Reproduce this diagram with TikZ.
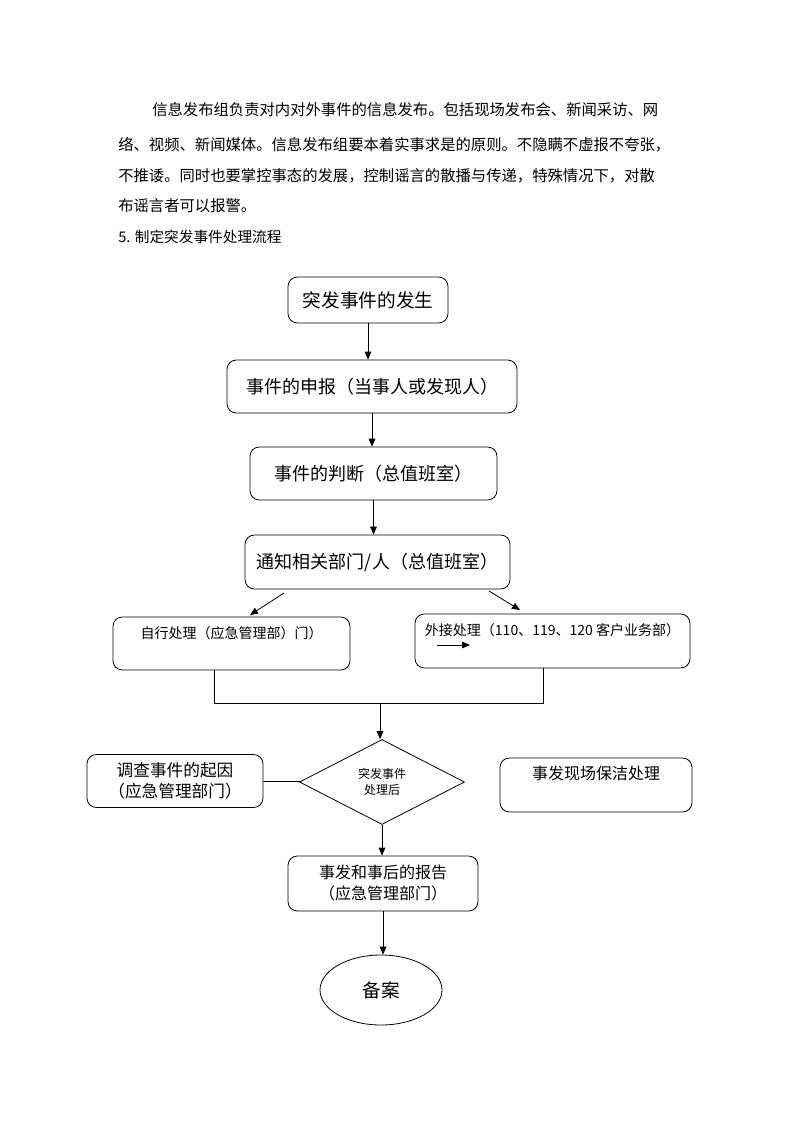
\documentclass[tikz,border=0pt]{standalone}
\usepackage{fontspec}
\setmainfont{Noto Sans CJK SC}
\usepackage{tikz}
\usetikzlibrary{shapes.geometric, arrows.meta, positioning, calc}
\definecolor{ink}{HTML}{000000}
\tikzstyle{stepbox} = [rectangle, rounded corners=7pt, draw=ink, line width=0.6pt, align=center, inner sep=2pt, text=ink]
\tikzstyle{para} = [anchor=west, inner sep=0pt, text=ink, font=\fontsize{11.5}{14}\selectfont]
\tikzstyle{arrow} = [line width=0.6pt, ink, -{Triangle[length=6pt,width=5pt]}]
\tikzstyle{line} = [line width=0.6pt, ink]

\begin{document}
\begin{tikzpicture}[x=0.75pt, y=-0.75pt]
    \useasboundingbox (0,0) rectangle (794,1123);

    % Paragraph text
    \node (p1) [para] at (152,110) {信息发布组负责对内对外事件的信息发布。包括现场发布会、新闻采访、网};
    \node (p2) [para] at (118,145) {络、视频、新闻媒体。信息发布组要本着实事求是的原则。不隐瞒不虚报不夸张，};
    \node (p3) [para] at (118,176) {不推诿。同时也要掌控事态的发展，控制谣言的散播与传递，特殊情况下，对散};
    \node (p4) [para] at (118,206) {布谣言者可以报警。};
    \node (head) [para, font=\fontsize{11}{13}\selectfont] at (118,237) {5. 制定突发事件处理流程};

    % Main steps
    \node (occur) [stepbox, minimum width=120pt, minimum height=34.5pt, font=\fontsize{14}{16}\selectfont] at (368,300) {突发事件的发生};
    \node (report) [stepbox, minimum width=217.5pt, minimum height=39.75pt, font=\fontsize{13.5}{16}\selectfont] at (372,386.5) {事件的申报（当事人或发现人）};
    \node (judge) [stepbox, minimum width=185.25pt, minimum height=39.75pt, font=\fontsize{13.5}{16}\selectfont] at (373.5,473.5) {事件的判断（总值班室）};
    \node (notify) [stepbox, minimum width=198.75pt, minimum height=40.5pt, font=\fontsize{13.5}{16}\selectfont] at (377.5,562) {通知相关部门/人（总值班室）};

    % Handling branches
    \node (self) [stepbox, minimum width=177.75pt, minimum height=39.75pt, font=\fontsize{10.5}{13}\selectfont] at (231.5,643.5) {自行处理（应急管理部）门）\\\strut};
    \node (outside) [stepbox, minimum width=206.25pt, minimum height=40.5pt, font=\fontsize{10.5}{13}\selectfont] at (552.5,641) {外接处理（110、119、120 客户业务部）\\\strut};

    % Decision and side boxes
    \node (decide) [diamond, draw=ink, line width=0.6pt, inner sep=0pt, minimum width=123.75pt, minimum height=63.75pt, align=center, font=\fontsize{9}{12.5}\selectfont] at (382,782) {突发事件\\处理后};
    \node (cause) [stepbox, minimum width=132pt, minimum height=39.75pt, font=\fontsize{12.5}{15.75}\selectfont] at (175,781) {调查事件的起因\\（应急管理部门）};
    \node (clean) [stepbox, minimum width=144pt, minimum height=40.5pt, font=\fontsize{12}{14}\selectfont] at (596,785) {事发现场保洁处理\\\strut};

    % Closing steps
    \node (summary) [stepbox, minimum width=142.5pt, minimum height=41.25pt, font=\fontsize{12}{15.75}\selectfont] at (383,883.5) {事发和事后的报告\\（应急管理部门）};
    \node (archive) [ellipse, draw=ink, line width=0.6pt, minimum width=91.5pt, minimum height=52.5pt, font=\fontsize{14}{16}\selectfont] at (381,990) {备案};

    % Helper points
    \coordinate (nl) at (284,593);
    \coordinate (sl) at (250,615);
    \coordinate (nr) at (489,591);
    \coordinate (sr) at (520,610);
    \coordinate (jl) at (214,703);
    \coordinate (jr) at (543,703);
    \coordinate (jm) at (380,703);
    \coordinate (ia) at (437,645);
    \coordinate (ib) at (470,645);

    % Arrows
    \draw [arrow] (occur) -- (occur |- report.north);
    \draw [arrow] (report) -- (report |- judge.north);
    \draw [arrow] (judge) -- (judge |- notify.north);
    \draw [arrow] (nl) -- (sl);
    \draw [arrow] (nr) -- (sr);
    \draw [arrow] (ia) -- (ib);
    \draw [line] (self.south -| jl) -- (jl) -- (jr) -- (outside.south -| jr);
    \draw [arrow] (jm) -- (jm |- decide.north);
    \draw [line] (cause) -- (decide);
    \draw [arrow] (decide) -- (decide.south |- summary.north);
    \draw [arrow] (summary) -- (summary |- archive.north);

\end{tikzpicture}
\end{document}
